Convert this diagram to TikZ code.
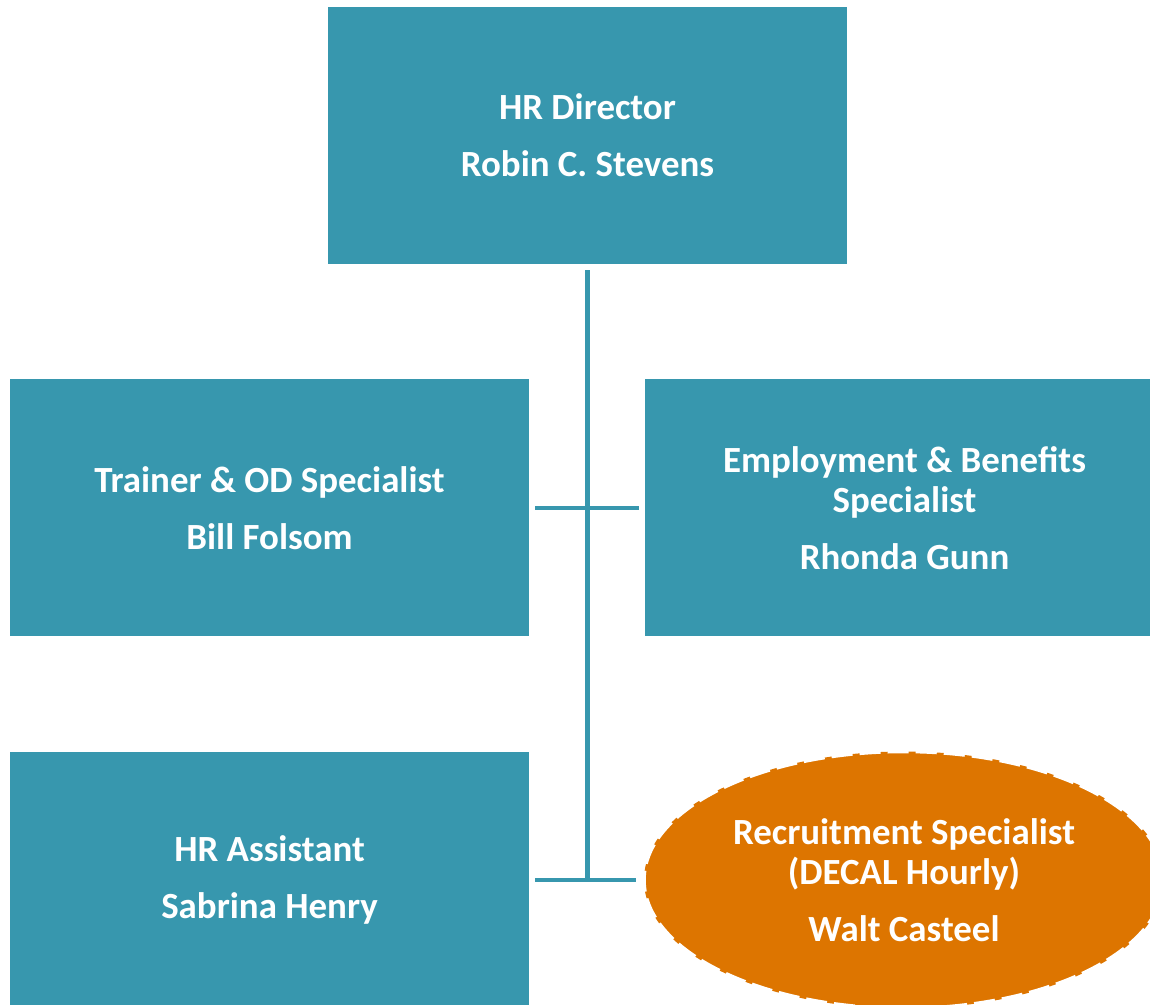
\documentclass[tikz,border=0pt]{standalone}
\usepackage{fontspec}
\setmainfont{Carlito}
\usepackage{tikz}
\usetikzlibrary{shapes,shapes.geometric}

\definecolor{hrteal}{HTML}{3797AE}
\definecolor{hrorange}{HTML}{DD7500}

\begin{document}
\begin{tikzpicture}[
      every node/.append style={align=center,text=white,font=\fontsize{21}{23}\selectfont\bfseries},
      link/.style={draw=hrteal,line width=2.8pt}]
    \tikzstyle{post} = [rectangle,fill=hrteal,minimum width=10.38cm,minimum height=5.14cm,inner sep=0pt]
    \tikzstyle{hourly} = [ellipse,fill=hrorange,draw=white,line width=2pt,
      dash pattern=on 12pt off 4pt,minimum width=10.4cm,minimum height=5.14cm,inner sep=0pt]
    \useasboundingbox (0,0) rectangle (23,-20.1);
    \node (director) [post] at (11.75,-2.71) {HR Director\\[0.33cm]Robin C. Stevens};
    \node (trainer) [post] at (5.39,-10.16) {Trainer \& OD Specialist\\[0.33cm]Bill Folsom};
    \node (benefits) [post] at (18.09,-10.16) {Employment \& Benefits\\Specialist\\[0.33cm]Rhonda Gunn};
    \node (assistant) [post] at (5.39,-17.6) {HR Assistant\\[0.33cm]Sabrina Henry};
    \node (recruiter) [hourly] at (18.08,-17.6) {Recruitment Specialist\\(DECAL Hourly)\\[0.33cm]Walt Casteel};
    % reporting lines
    \coordinate (hub) at (director.south |- assistant.east);
    \draw[link,shorten <=0.12cm] (director.south) -- (hub);
    \draw[link,shorten <=0.12cm,shorten >=0.12cm] (trainer.east) -- (benefits.west);
    \draw[link,shorten <=0.12cm,shorten >=0.12cm] (assistant.east) -- (recruiter.west);
\end{tikzpicture}
\end{document}
